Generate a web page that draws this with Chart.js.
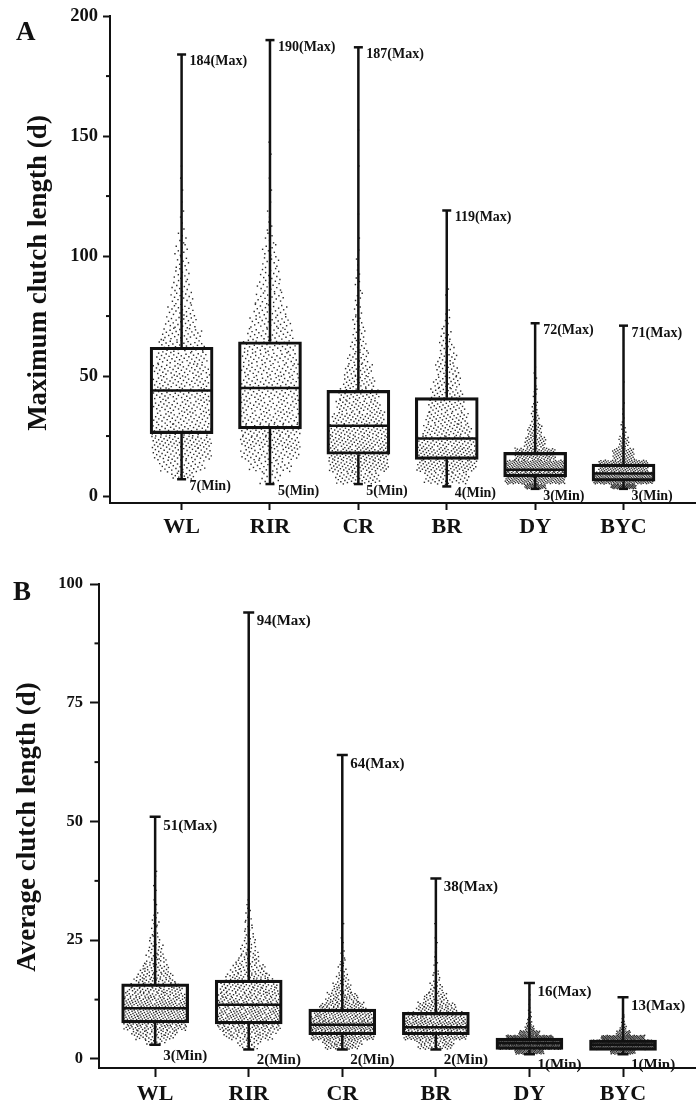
<!DOCTYPE html>
<html>
<head>
<meta charset="utf-8">
<script src="https://cdn.jsdelivr.net/npm/chart.js@4.4.1/dist/chart.umd.min.js"></script>
<style>
  html, body { margin: 0; padding: 0; background: #fff; overflow: hidden; }
  .panel { position: relative; width: 696px; }
  #wrapA { height: 560px; }
  #wrapB { height: 546px; }
</style>
</head>
<body>
<div class="panel" id="wrapA"><canvas id="chartA"></canvas></div>
<div class="panel" id="wrapB"><canvas id="chartB"></canvas></div>
<script>
const breeds = ['WL', 'RIR', 'CR', 'BR', 'DY', 'BYC'];

// Panel A : maximum clutch length (d)
const maxLenMin = [7, 5, 5, 4, 3, 3];
const maxLenQ1 = [26, 28, 17.4, 15.3, 8, 6.2];
const maxLenMedian = [44, 45, 29.3, 24, 11, 9.4];
const maxLenQ3 = [62, 64.3, 44, 41, 18.2, 13.3];
const maxLenMax = [184, 190, 187, 119, 72, 71];
const maxLenBin = 5;
const maxLenCounts = [
    [0, 15, 35, 50, 60, 50, 45, 45, 45, 45, 45, 40, 35, 30, 22, 18, 15, 12, 10, 8, 8, 5, 2, 2, 1, 1, 1, 1],
    [0, 12, 30, 45, 55, 55, 45, 45, 45, 42, 42, 40, 38, 32, 28, 22, 18, 15, 12, 10, 8, 5, 3, 2, 1, 1, 1, 1, 1, 1],
    [0, 45, 70, 80, 70, 65, 55, 45, 40, 30, 25, 18, 14, 10, 8, 6, 5, 4, 3, 2, 1, 1, 0, 1, 0, 0, 0, 1, 0, 0, 1],
    [3, 45, 75, 80, 65, 50, 42, 35, 30, 25, 20, 16, 12, 8, 4, 3, 2, 2, 0, 1],
    [40, 180, 170, 90, 40, 25, 12, 8, 5, 3, 2, 1],
    [60, 220, 140, 50, 20, 8, 3, 2, 0, 1]
];

// Panel B : average clutch length (d)
const avgLenMin = [3, 2, 2, 2, 1, 1];
const avgLenQ1 = [7.6, 7.4, 5.1, 5.1, 2.0, 1.8];
const avgLenMedian = [10.7, 11.4, 7.2, 6.7, 3.3, 3.0];
const avgLenQ3 = [15.8, 16.6, 10.5, 9.8, 4.4, 4.0];
const avgLenMax = [51, 94, 64, 38, 16, 13];
// hens counted per 1-day bin (0-1, 1-2, ...)
const avgLenBin = 1;
const avgLenCounts = [
    [0, 0, 5, 10, 22, 28, 42, 48, 50, 50, 48, 47, 42, 38, 34, 31, 24, 21, 16, 14, 11, 9, 7, 7, 5, 5, 3, 3, 3, 2, 2, 1, 1, 1, 1, 1, 1, 0, 1, 1],
    [0, 0, 8, 12, 25, 30, 40, 45, 45, 45, 43, 42, 38, 37, 33, 32, 26, 24, 18, 17, 12, 10, 8, 7, 5, 5, 4, 4, 3, 3, 2, 2, 1, 1],
    [0, 0, 25, 30, 58, 62, 66, 64, 52, 48, 37, 33, 24, 21, 13, 12, 7, 7, 4, 4, 3, 2, 2, 1, 1, 1, 0, 0, 1],
    [0, 0, 24, 26, 56, 59, 62, 58, 47, 43, 29, 26, 16, 14, 8, 7, 4, 4, 3, 2, 2, 1, 1, 1, 1, 1, 1, 0, 1],
    [0, 60, 180, 200, 110, 40, 15, 8, 5, 3, 2, 1, 1, 1],
    [0, 50, 170, 200, 100, 25, 10, 5, 3, 2, 1]
];

Chart.defaults.font.family = '"Liberation Serif", "Times New Roman", serif';
Chart.defaults.font.weight = 'bold';
Chart.defaults.color = '#111';

// spread every bin's hens across a band whose width follows the bin count
function buildCloud(counts, step, mins, maxs, boxHalf) {
    const pts = [];
    counts.forEach((row, i) => {
        const peak = Math.max(...row) * 0.8;
        row.forEach((n, b) => {
            const lo = Math.max(b * step, mins[i]);
            const hi = Math.min((b + 1) * step, maxs[i]);
            const w = boxHalf * 0.97 * Math.min(1, Math.pow(n / peak, 0.8));
            for (let j = 0; j < n; j++) {
                const t = ((j + 1) * 0.6180339887 + b * 0.29 + i * 0.13) % 1;
                pts.push({x: i + 1 + (2 * t - 1) * w, y: lo + (hi - lo) * (j + 0.5) / n});
            }
        });
    });
    return pts;
}

function whiskers(mins, q1, q3, maxs) {
    const pts = [];
    breeds.forEach((b, i) => {
        pts.push({x: i + 1, y: mins[i]}, {x: i + 1, y: q1[i]}, {x: i + 1, y: null});
        pts.push({x: i + 1, y: q3[i]}, {x: i + 1, y: maxs[i]}, {x: i + 1, y: null});
    });
    return pts;
}

// minor ticks, Max/Min notes, panel letter and axis title
const clutchText = {
    id: 'clutchText',
    afterDraw(chart, args, o) {
        const {ctx, scales: {x, y}} = chart;
        ctx.save();
        ctx.strokeStyle = '#111';
        ctx.lineWidth = 2;
        o.minor.forEach(v => {
            const py = y.getPixelForValue(v);
            ctx.beginPath();
            ctx.moveTo(x.left - o.minorLen, py);
            ctx.lineTo(x.left, py);
            ctx.stroke();
        });
        ctx.fillStyle = '#111';
        ctx.textAlign = 'left';
        ctx.textBaseline = 'alphabetic';
        ctx.font = 'bold ' + o.size + 'px "Liberation Serif"';
        o.maxs.forEach((v, i) => {
            ctx.fillText(v + '(Max)', x.getPixelForValue(i + 1) + o.dx, y.getPixelForValue(v) + o.dyMax);
        });
        o.mins.forEach((v, i) => {
            ctx.fillText(v + '(Min)', x.getPixelForValue(i + 1) + o.dx, y.getPixelForValue(v) + o.dyMin);
        });
        ctx.font = 'bold 27px "Liberation Serif"';
        ctx.fillText(o.letter, o.letterX, o.letterY);

        ctx.translate(o.titleX, o.titleY);
        ctx.rotate(-Math.PI / 2);
        ctx.textAlign = 'center';
        ctx.font = 'bold 27px "Liberation Serif"';
        ctx.fillText(o.title, 0, 0);
        ctx.restore();
    }
};

function makeChart(id, s) {
    const ctx = document.getElementById(id).getContext('2d');
    return new Chart(ctx, {
        type: 'scatter',
        data: {
            datasets: [
                {
                    type: 'scatter',
                    data: buildCloud(s.counts, s.bin, s.mins, s.maxs, 0.35),
                    pointStyle: 'rect',
                    pointRadius: 1.0,
                    pointBorderWidth: 0,
                    pointBackgroundColor: '#2a2a2a',
                    order: 3
                },
                {
                    type: 'bar',
                    data: breeds.map((b, i) => ({x: i + 1, y: [s.q1[i], s.q3[i]]})),
                    backgroundColor: 'rgba(0,0,0,0)',
                    borderColor: '#111',
                    borderWidth: 2.5,
                    borderSkipped: false,
                    barThickness: s.boxPx,
                    order: 2
                },
                {
                    type: 'line',
                    data: whiskers(s.mins, s.q1, s.q3, s.maxs),
                    borderColor: '#111',
                    borderWidth: 2.5,
                    pointRadius: 0,
                    spanGaps: false,
                    order: 1
                },
                {
                    type: 'scatter',
                    data: breeds.map((b, i) => ({x: i + 1, y: s.medians[i]})),
                    pointStyle: 'line',
                    pointRadius: s.boxPx / 2 - 1,
                    pointBorderColor: '#111',
                    pointBorderWidth: 2.5,
                    order: 1
                },
                {
                    type: 'scatter',
                    data: breeds.map((b, i) => ({x: i + 1, y: s.maxs[i]}))
                        .concat(breeds.map((b, i) => ({x: i + 1, y: s.mins[i]}))),
                    pointStyle: 'line',
                    pointRadius: s.capR,
                    pointBorderColor: '#111',
                    pointBorderWidth: 2.5,
                    order: 1
                }
            ]
        },
        options: {
            responsive: true,
            maintainAspectRatio: false,
            animation: false,
            events: [],
            layout: {autoPadding: false, padding: {top: s.padTop, left: 0, right: 0, bottom: 0}},
            plugins: {
                legend: {display: false},
                tooltip: {enabled: false},
                clutchText: {
                    minor: s.minor, minorLen: s.minorLen,
                    maxs: s.maxs, mins: s.mins, size: s.labelSize,
                    dx: 8, dyMax: s.dyMax, dyMin: s.dyMin,
                    letter: s.letter, letterX: s.letterX, letterY: s.letterY,
                    title: s.title, titleX: s.titleX, titleY: s.titleY
                }
            },
            scales: {
                x: {
                    type: 'linear',
                    min: s.xMin,
                    max: s.xMax,
                    offset: false,
                    afterBuildTicks: sc => { sc.ticks = breeds.map((b, i) => ({value: i + 1})); },
                    afterFit: sc => { sc.height = s.xHeight; },
                    ticks: {
                        callback: v => breeds[v - 1],
                        font: {size: 22, weight: 'bold'},
                        color: '#111',
                        padding: 4,
                        maxRotation: 0,
                        autoSkip: false
                    },
                    grid: {drawOnChartArea: false, offset: false, tickLength: s.tickLen, tickWidth: 2, tickColor: '#111'},
                    border: {color: '#111', width: 2}
                },
                y: {
                    type: 'linear',
                    min: s.yMin,
                    max: s.yMax,
                    afterFit: sc => { sc.width = s.yWidth; },
                    ticks: {
                        stepSize: s.yStep,
                        includeBounds: false,
                        font: {size: s.tickSize, weight: 'bold'},
                        color: '#111',
                        padding: s.tickPad
                    },
                    grid: {drawOnChartArea: false, tickLength: s.tickLen, tickWidth: 2, tickColor: '#111'},
                    border: {color: '#111', width: 2}
                }
            }
        },
        plugins: [clutchText]
    });
}

makeChart('chartA', {
    counts: maxLenCounts, bin: maxLenBin,
    mins: maxLenMin, q1: maxLenQ1, medians: maxLenMedian, q3: maxLenQ3, maxs: maxLenMax,
    boxPx: 63, capR: 4.5, padTop: 16,
    xMin: 0.19, xMax: 6.82, xHeight: 57,
    yMin: -2.9, yMax: 200, yStep: 50, yWidth: 110,
    tickLen: 7, tickSize: 18.5, tickPad: 5,
    minor: [25, 75, 125, 175], minorLen: 4,
    title: 'Maximum clutch length (d)', titleX: 46, titleY: 273,
    labelSize: 14, dyMax: 11, dyMin: 11,
    letter: 'A', letterX: 16, letterY: 40
});

makeChart('chartB', {
    counts: avgLenCounts, bin: avgLenBin,
    mins: avgLenMin, q1: avgLenQ1, medians: avgLenMedian, q3: avgLenQ3, maxs: avgLenMax,
    boxPx: 67, capR: 5.5, padTop: 24,
    xMin: 0.40, xMax: 6.78, xHeight: 38,
    yMin: -1.9, yMax: 100, yStep: 25, yWidth: 99,
    tickLen: 9, tickSize: 16.5, tickPad: 7,
    minor: [12.5, 37.5, 62.5, 87.5], minorLen: 4.5,
    title: 'Average clutch length (d)', titleX: 35, titleY: 267,
    labelSize: 15, dyMax: 13, dyMin: 15,
    letter: 'B', letterX: 13, letterY: 40
});
</script>
</body>
</html>
